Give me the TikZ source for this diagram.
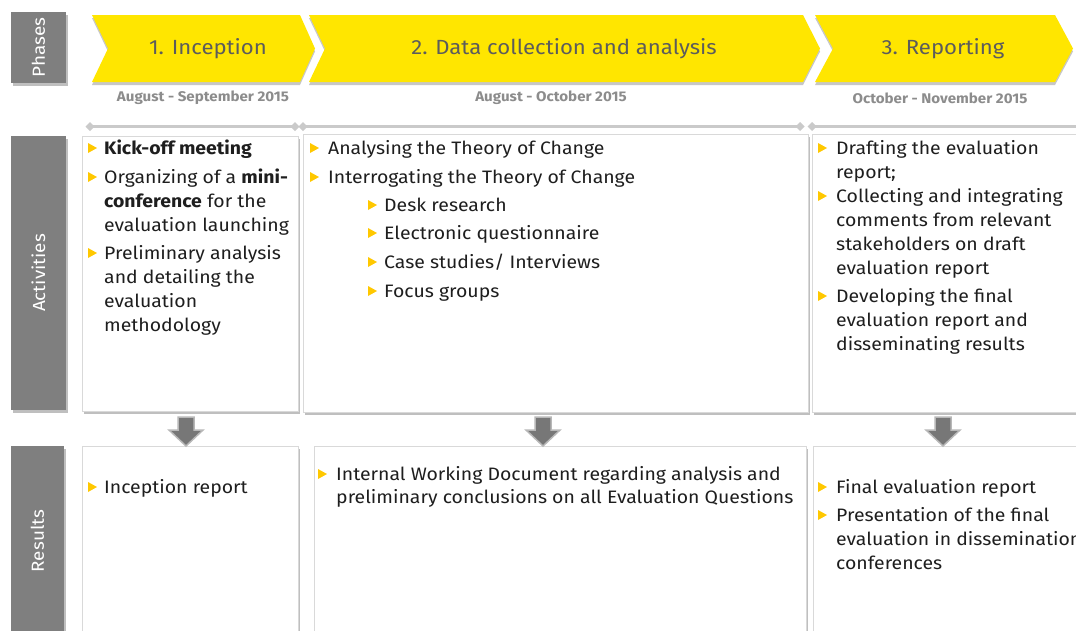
\documentclass[tikz,border=0pt]{standalone}
\usepackage{fontspec}
\setmainfont[FakeStretch=1.08]{Fira Sans}
\definecolor{eyyellow}{HTML}{FFE600}
\definecolor{bulyel}{HTML}{FFC800}
\definecolor{tabgray}{HTML}{7F7F7F}
\definecolor{phtext}{HTML}{5C5C5C}
\definecolor{datetext}{HTML}{8C8C8C}
\definecolor{bodytext}{HTML}{1E1E1E}
\definecolor{barcol}{HTML}{CACACA}
\definecolor{arrfill}{HTML}{777777}
\definecolor{arredge}{HTML}{B8B8B8}
\newcommand\st{\rule{0pt}{16pt}}
\begin{document}
\begin{tikzpicture}[x=1pt,y=-1pt,
  shad/.style={preaction={fill=black!25,transform canvas={xshift=1.5pt,yshift=-2.5pt}}},
  tab/.style={shad,fill=tabgray,draw=none,text=white,font=\fontsize{17.5}{20}\selectfont,rotate=90,inner sep=0},
  box/.style={shad,fill=white,draw=black!15,line width=0.8pt,anchor=north west,inner sep=0},
  chev/.style={fill=eyyellow,preaction={fill=black!22,transform canvas={yshift=-3pt}}},
  phase/.style={text=phtext,font=\fontsize{20.5}{24}\selectfont,inner sep=0},
  date/.style={text=datetext,font=\fontsize{14}{16}\selectfont\bfseries,inner sep=0},
  item/.style={anchor=north west,inner sep=0,align=left,text=bodytext,font=\fontsize{18}{24}\selectfont},
  bar/.style={draw=barcol,line width=3pt},
  bul/.pic={\fill[bulyel] (-4,-5) -- (5,0) -- (-4,5) -- cycle;},
  darrow/.pic={\filldraw[fill=arrfill,draw=arredge,line width=1.5pt,line join=miter]
     (-8,0) -- (8,0) -- (8,13) -- (17,13) -- (0,29) -- (-17,13) -- (-8,13) -- cycle;}
]
\clip (0,0) rectangle (1076,630);
\fill[white] (0,0) rectangle (1076,630);

% side tabs
\node[tab,minimum width=71,minimum height=55] (tphase) at (38.5,47.5) {Phases};
\node[tab,minimum width=274,minimum height=55] (tact) at (38.5,273) {Activities};
\node[tab,minimum width=190,minimum height=53] (tres) at (37.5,541) {Results};

% chevrons
\fill[chev] (92,15) -- (300,15) -- (315,48.5) -- (300,82) -- (92,82) -- (108,48.5) -- cycle;
\fill[chev] (309,15) -- (803,15) -- (820,48.5) -- (803,82) -- (309,82) -- (325,48.5) -- cycle;
\fill[chev] (815,15) -- (1055,15) -- (1073,48.5) -- (1055,82) -- (815,82) -- (833,48.5) -- cycle;
\node[phase] (p1) at (208,49) {1. Inception};
\node[phase] (p2) at (564,49) {2. Data collection and analysis};
\node[phase] (p3) at (943,49) {3. Reporting};

% dates
\node[date] (d1) at (203,98) {August - September 2015};
\node[date] (d2) at (551,98) {August - October 2015};
\node[date] (d3) at (940,98) {October - November 2015};

% timeline bars
\draw[bar] (90,126.5) -- (295,126.5);
\draw[bar] (303,126.5) -- (800,126.5);
\draw[bar] (812,126.5) -- (1090,126.5);
\foreach \x in {90,295,303,800,812}
  \fill[barcol] (\x,122) -- (\x+4.5,126.5) -- (\x,131) -- (\x-4.5,126.5) -- cycle;

% activity boxes
\node[box,minimum width=216,minimum height=275] (act1) at (82,136) {};
\node[box,minimum width=505,minimum height=278] (act2) at (303,134) {};
\node[box,minimum width=300,minimum height=278] (act3) at (812,134) {};

% result boxes
\node[box,minimum width=216,minimum height=200] (res1) at (82,446) {};
\node[box,minimum width=492,minimum height=200] (res2) at (314,446) {};
\node[box,minimum width=300,minimum height=200] (res3) at (813,446) {};

% arrows
\pic at (186,417) {darrow};
\pic at (543,417) {darrow};
\pic at (943,417) {darrow};

% activities 1
\pic at (92,148) {bul}; \node[item] (a11) at (104,138) {\st\textbf{Kick-off meeting}};
\pic at (92,177) {bul}; \node[item] (a12) at (104,167) {\st Organizing of a \textbf{mini-}\\\textbf{conference} for the\\evaluation launching};
\pic at (92,253) {bul}; \node[item] (a13) at (104,243) {\st Preliminary analysis\\and detailing the\\evaluation\\methodology};

% activities 2
\pic at (314,148) {bul}; \node[item] (a21) at (328,138) {\st Analysing the Theory of Change};
\pic at (314,177) {bul}; \node[item] (a22) at (328,167) {\st Interrogating the Theory of Change};
\pic at (372,205) {bul}; \node[item] (a23) at (384,195) {\st Desk research};
\pic at (372,233) {bul}; \node[item] (a24) at (384,223) {\st Electronic questionnaire};
\pic at (372,262) {bul}; \node[item] (a25) at (384,252) {\st Case studies/ Interviews};
\pic at (372,291) {bul}; \node[item] (a26) at (384,281) {\st Focus groups};

% activities 3
\pic at (822,148) {bul}; \node[item] (a31) at (836,138) {\st Drafting the evaluation\\report;};
\pic at (822,196) {bul}; \node[item] (a32) at (836,186) {\st Collecting and integrating\\comments from relevant\\stakeholders on draft\\evaluation report};
\pic at (822,296) {bul}; \node[item] (a33) at (836,286) {\st Developing the final\\evaluation report and\\disseminating results};

% results
\pic at (92,487) {bul}; \node[item] (r11) at (104,477) {\st Inception report};
\pic at (322,474) {bul}; \node[item,font=\fontsize{18}{23}\selectfont] (r21) at (336,464) {\st Internal Working Document regarding analysis and\\preliminary conclusions on all Evaluation Questions};
\pic at (822,487) {bul}; \node[item] (r31) at (836,477) {\st Final evaluation report};
\pic at (822,515) {bul}; \node[item] (r32) at (836,505) {\st Presentation of the final\\evaluation in dissemination\\conferences};
\end{tikzpicture}
\end{document}
